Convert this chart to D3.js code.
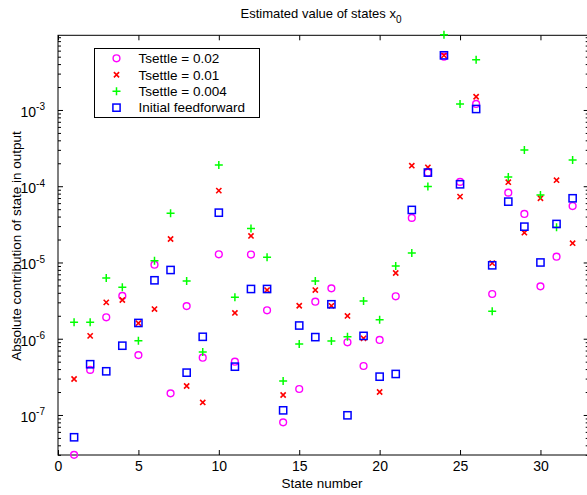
<!DOCTYPE html>
<html><head><meta charset="utf-8">
<script src="https://cdn.jsdelivr.net/npm/d3@7"></script>
<style>body{margin:0;background:#fff}svg{display:block}text{font-family:"Liberation Sans",Arial,sans-serif}</style>
</head><body><svg id="c" width="587" height="495"></svg>
<script>
const states = d3.range(1, 33);
const seriesNames = ["Tsettle = 0.02", "Tsettle = 0.01", "Tsettle = 0.004", "Initial feedforward"];
const tsettle002 = [3.0e-8,3.9e-7,1.91e-6,3.64e-6,6.1e-7,9.35e-6,1.92e-7,2.68e-6,5.64e-7,1.28e-5,5.0e-7,1.27e-5,2.36e-6,8.0e-8,2.19e-7,3.06e-6,4.58e-6,8.98e-7,4.39e-7,9.64e-7,3.6e-6,3.84e-5,1.5e-4,5.0e-3,1.14e-4,1.2e-3,3.86e-6,8.24e-5,4.33e-5,4.86e-6,1.19e-5,5.5e-5];
const tsettle001 = [2.96e-7,1.09e-6,3.0e-6,3.22e-6,1.6e-6,2.45e-6,2.03e-5,2.4e-7,1.46e-7,8.75e-5,2.18e-6,2.23e-5,4.35e-6,1.83e-7,2.71e-6,4.35e-6,2.7e-6,1.99e-6,1.01e-6,2.0e-7,7.28e-6,1.86e-4,1.77e-4,5.2e-3,7.3e-5,1.49e-3,9.8e-6,1.13e-4,2.46e-5,6.95e-5,1.2e-4,1.79e-5];
const tsettle0004 = [1.64e-6,1.64e-6,6.27e-6,4.72e-6,9.44e-7,1.05e-5,4.41e-5,5.71e-6,6.7e-7,1.9e-4,3.49e-6,2.8e-5,1.17e-5,2.79e-7,8.53e-7,5.71e-6,9.34e-7,1.06e-6,3.13e-6,1.78e-6,9.0e-6,1.33e-5,9.9e-5,9.72e-3,1.2e-3,4.57e-3,2.29e-6,1.32e-4,2.99e-4,7.67e-5,2.89e-5,2.21e-4];
const initialFF = [5.1e-8,4.63e-7,3.74e-7,8.1e-7,1.61e-6,5.84e-6,7.97e-6,3.59e-7,1.06e-6,4.5e-5,4.3e-7,4.49e-6,4.49e-6,1.15e-7,1.49e-6,1.05e-6,2.83e-6,9.9e-8,1.09e-6,3.18e-7,3.45e-7,4.89e-5,1.51e-4,5.21e-3,1.06e-4,1.03e-3,9.18e-6,6.28e-5,2.95e-5,1.0e-5,3.2e-5,6.95e-5];
const xTicks = [0,5,10,15,20,25,30];
const yTicks = [1e-7,1e-6,1e-5,1e-4,1e-3];

const svg = d3.select("#c");
const L=58, R=588.7, T=35.3, B=455;
const x = d3.scaleLinear().domain([0,33]).range([L,R]);
const y = d3.scaleLog().domain([Math.pow(10,-7.525), Math.pow(10,-2.0205)]).range([B,T]);

const minors = [];
for (let e=-8;e<=-2;e++) for (let m=2;m<=9;m++){const v=m*Math.pow(10,e); if(v>=y.domain()[0]&&v<=y.domain()[1]) minors.push(v);}

const fs = "14px";
// axes
const gx = svg.append("g").attr("transform",`translate(0,${B})`).call(d3.axisBottom(x).tickValues(xTicks).tickSizeInner(-5).tickSizeOuter(0).tickPadding(6));
gx.selectAll("text").style("font-size",fs).attr("fill","#000");
svg.append("g").attr("transform",`translate(0,${T})`).call(d3.axisTop(x).tickValues(xTicks).tickSizeInner(-5).tickSizeOuter(0).tickFormat(""));
const gy = svg.append("g").attr("transform",`translate(${L},0)`).call(d3.axisLeft(y).tickValues(yTicks).tickSizeInner(-5).tickSizeOuter(0).tickPadding(12).tickFormat(""));
gy.selectAll(".tick").each(function(d){
  const t=d3.select(this).select("text").attr("fill","#000").style("font-size",fs).attr("dy","0.45em").attr("x",-13);
  t.append("tspan").text("10");
  t.append("tspan").attr("dy","-0.65em").style("font-size","10px").text(String(Math.round(Math.log10(d))));
});
svg.append("g").attr("transform",`translate(${L},0)`).call(d3.axisLeft(y).tickValues(minors).tickSizeInner(-3).tickSizeOuter(0).tickFormat(""));
svg.append("g").attr("transform",`translate(${R},0)`).call(d3.axisRight(y).tickValues(yTicks).tickSizeInner(-5).tickSizeOuter(0).tickFormat(""));
svg.append("g").attr("transform",`translate(${R},0)`).call(d3.axisRight(y).tickValues(minors).tickSizeInner(-3).tickSizeOuter(0).tickFormat(""));
svg.selectAll(".domain").remove();
svg.selectAll(".tick line").attr("stroke","#000");
svg.append("rect").attr("x",L).attr("y",T).attr("width",R-L).attr("height",B-T).attr("fill","none").attr("stroke","#000").attr("stroke-width",1);

// markers
const sym = {
  circle:(g,cx,cy,c)=>g.append("circle").attr("cx",cx).attr("cy",cy).attr("r",3.4).attr("fill","none").attr("stroke",c).attr("stroke-width",1.4),
  x:(g,cx,cy,c)=>g.append("path").attr("d",`M${cx-2.6},${cy-2.6}L${cx+2.6},${cy+2.6}M${cx-2.6},${cy+2.6}L${cx+2.6},${cy-2.6}`).attr("stroke",c).attr("stroke-width",1.6),
  plus:(g,cx,cy,c)=>g.append("path").attr("d",`M${cx-4},${cy}L${cx+4},${cy}M${cx},${cy-4}L${cx},${cy+4}`).attr("stroke",c).attr("stroke-width",1.5),
  square:(g,cx,cy,c)=>g.append("rect").attr("x",cx-3.6).attr("y",cy-3.6).attr("width",7.2).attr("height",7.2).attr("fill","none").attr("stroke",c).attr("stroke-width",1.5)
};
const series = [
  {vals:tsettle002, s:"circle", c:"#ff00ff"},
  {vals:tsettle001, s:"x", c:"#ff0000"},
  {vals:tsettle0004, s:"plus", c:"#00ff00"},
  {vals:initialFF, s:"square", c:"#0000ff"}
];
const gm = svg.append("g");
series.forEach(se=>{
  se.vals.forEach((v,i)=>sym[se.s](gm, x(states[i]), y(v), se.c));
});

// legend
const lg = svg.append("g");
lg.append("rect").attr("x",94.5).attr("y",48.5).attr("width",165).attr("height",69).attr("fill","#fff").attr("stroke","#000").attr("stroke-width",1);
series.forEach((se,i)=>{
  const yy = 58.3 + i*16.45;
  sym[se.s](lg, 116.5, yy, se.c);
  lg.append("text").attr("x",138.5).attr("y",yy+4.8).style("font-size","13.5px").text(seriesNames[i]);
});

// title and labels
const tt = svg.append("text").attr("x",321).attr("y",18).attr("text-anchor","middle").style("font-size","13px");
tt.append("tspan").text("Estimated value of states x");
tt.append("tspan").attr("dy","5").style("font-size","10px").text("0");
svg.append("text").attr("x",322).attr("y",488).attr("text-anchor","middle").style("font-size","13.5px").text("State number");
svg.append("text").attr("transform","translate(21,246) rotate(-90)").attr("text-anchor","middle").style("font-size","13.5px").text("Absolute contribution of state in output");
</script></body></html>
